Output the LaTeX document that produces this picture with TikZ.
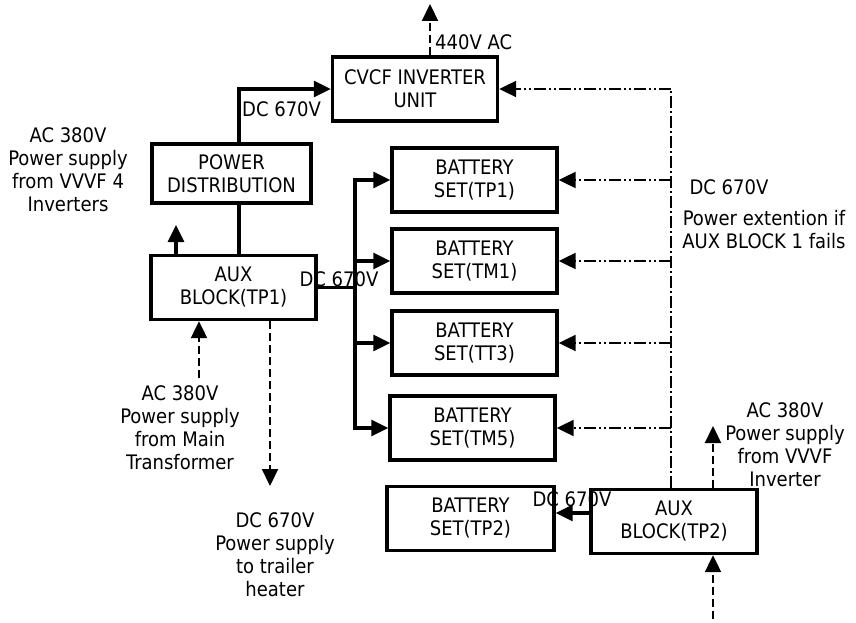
\documentclass[tikz,border=0pt]{standalone}
\usepackage{fontspec}
\setmainfont{DejaVu Sans Condensed}
\usetikzlibrary{arrows.meta,positioning}

\begin{document}
\begin{tikzpicture}[
			x = 1pt,
			y = -1pt,
			every node/.style = {font = \fontsize{20}{23}\selectfont, align = center, inner sep = 0pt},
			box/.style = {draw, line width = 3.4pt, minimum width = 165pt, minimum height = 64pt},
			line/.style = {line width = 3.2pt, line cap = rect},
			arr/.style = {line width = 3.2pt, line cap = rect, -{Triangle[length = 17pt, width = 16pt]}},
			dasharr/.style = {line width = 2.2pt, dash pattern = on 8pt off 4pt, -{Triangle[length = 17pt, width = 16pt]}},
			extline/.style = {line width = 2.2pt, dash pattern = on 12pt off 3pt on 2pt off 3pt},
			extarr/.style = {line width = 2.2pt, dash pattern = on 12pt off 3pt on 2pt off 3pt on 2pt off 3pt, -{Triangle[length = 17pt, width = 16pt]}}
			]

			\useasboundingbox (0,0) rectangle (856,623);

			\node[box] (cvcf) at (415,89) {CVCF INVERTER\\UNIT};
			\node[box, minimum width = 159pt, minimum height = 59pt] (pdist) at (231.5,173.5) {POWER\\DISTRIBUTION};
			\node[box] (aux1) at (233.5,287.5) {AUX\\BLOCK(TP1)};
			\node[box] (bTP1) at (474.5,180) {BATTERY\\SET(TP1)};
			\node[box] (bTM1) at (474.5,261) {BATTERY\\SET(TM1)};
			\node[box] (bTT3) at (474.5,343) {BATTERY\\SET(TT3)};
			\node[box] (bTM5) at (472.5,428) {BATTERY\\SET(TM5)};
			\node[box, minimum width = 167pt] (bTP2) at (470.5,518.5) {BATTERY\\SET(TP2)};
			\node[box, minimum width = 166pt] (aux2) at (674,521.5) {AUX\\BLOCK(TP2)};

			\coordinate (bustop) at (355,180);
			\coordinate (busbot) at (355,428);
			\coordinate (ext) at (671,89);
			\coordinate (o440) at (430,4);
			\coordinate (up1) at (176,225);
			\coordinate (mt) at (199,378);
			\coordinate (ht) at (270,486);
			\coordinate (vv) at (713,426);
			\coordinate (in2) at (713,619);

			\draw[arr] ([xshift=7.5pt]pdist.north) |- (cvcf.west);
			\draw[line] ([xshift=7.5pt]pdist.south) -- ([xshift=7.5pt]pdist.south |- aux1.north);
			\draw[arr] (aux1.north -| up1) -- (up1);
			\draw[dasharr] (cvcf.north -| o440) -- (o440);

			\draw[line] (aux1.east) -- (aux1.east -| bustop);
			\draw[line] (bustop) -- (busbot);
			\foreach \b in {bTP1,bTM1,bTT3,bTM5}{
				\draw[arr] (\b.west -| bustop) -- (\b.west);
			}

			\draw[extline] (aux2.north -| ext) -- (ext);
			\foreach \b in {cvcf,bTP1,bTM1,bTT3,bTM5}{
				\draw[extarr] (\b.east -| ext) -- (\b.east);
			}

			\draw[dasharr] (mt) -- (mt |- aux1.south);
			\draw[dasharr] (ht |- aux1.south) -- (ht);
			\draw[arr] ([yshift=8.5pt]aux2.west) -- ([yshift=8.5pt]aux2.west -| bTP2.east);
			\draw[dasharr] (aux2.north -| vv) -- (vv);
			\draw[dasharr] (in2) -- (in2 |- aux2.south);

			\node[anchor = west] (l440) at (435,42) {440V AC};
			\node[anchor = west] (dcA) at (242,109) {DC 670V};
			\node (dcB) at (339,279) {DC 670V};
			\node (dcC) at (729,187) {DC 670V};
			\node (dcD) at (572,499) {DC 670V};
			\node (lext) at (764,229.5) {Power extention if\\AUX BLOCK 1 fails};
			\node (lvvvf4) at (68,169.5) {AC 380V\\Power supply\\from VVVF 4\\Inverters};
			\node (lmain) at (180,427.5) {AC 380V\\Power supply\\from Main\\Transformer};
			\node (lheat) at (275,555) {DC 670V\\Power supply\\to trailer\\heater};
			\node (lvvvf) at (785,445) {AC 380V\\Power supply\\from VVVF\\Inverter};

		\end{tikzpicture}
\end{document}
